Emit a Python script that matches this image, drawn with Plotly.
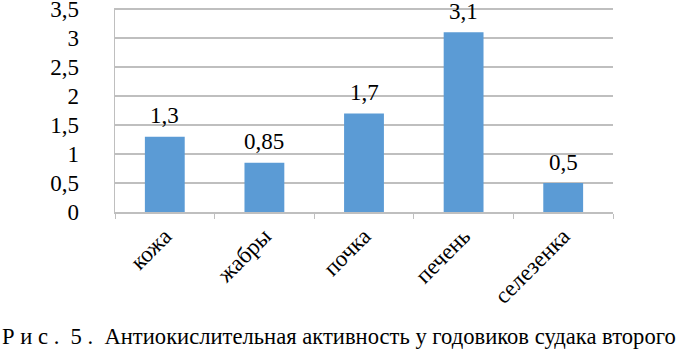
import plotly.graph_objects as go

categories = ["кожа", "жабры", "почка", "печень", "селезенка"]
values = [1.3, 0.85, 1.7, 3.1, 0.5]
value_labels = ["1,3", "0,85", "1,7", "3,1", "0,5"]
y_ticks = [0, 0.5, 1, 1.5, 2, 2.5, 3, 3.5]
y_tick_labels = ["0", "0,5", "1", "1,5", "2", "2,5", "3", "3,5"]
caption = "Р и с .  5 .  Антиокислительная активность у годовиков судака второго"

FONT = "Liberation Serif, Times New Roman, serif"
FS = 23

fig = go.Figure(go.Bar(
    x=categories, y=values,
    marker=dict(color="#5B9BD5", line=dict(width=0)),
    cliponaxis=False, hoverinfo="skip",
))

annotations = [
    dict(x=c, y=v, text=t, xref="x", yref="y", showarrow=False,
         xanchor="center", yanchor="middle", yshift=21,
         font=dict(family=FONT, size=FS, color="black"))
    for c, v, t in zip(categories, values, value_labels)
]
annotations.append(dict(
    text=caption, xref="paper", yref="paper",
    x=-115/498, y=-124/204, xanchor="left", yanchor="middle",
    showarrow=False, font=dict(family=FONT, size=22.6, color="black"),
))

fig.update_layout(
    width=683, height=350,
    margin=dict(l=115, r=70, t=8, b=138, autoexpand=False),
    paper_bgcolor="white", plot_bgcolor="white",
    bargap=0.6,
    showlegend=False,
    font=dict(family=FONT, size=FS, color="black"),
    annotations=annotations,
)
fig.update_xaxes(
    tickangle=-45, tickson="boundaries", ticks="outside", ticklen=5,
    tickcolor="#bfbfbf", showline=True, linecolor="#bfbfbf", linewidth=1.5,
    showgrid=False, automargin=False, ticklabeloverflow="allow",
    tickfont=dict(family=FONT, size=FS, color="black"),
)
fig.update_yaxes(
    range=[0, 3.52], tickvals=y_ticks, ticktext=y_tick_labels,
    showgrid=True, gridcolor="#bfbfbf", gridwidth=1.5,
    showline=True, linecolor="#bfbfbf", linewidth=1.5,
    ticks="", ticklabelstandoff=30, zeroline=False, automargin=False,
    ticklabeloverflow="allow",
    tickfont=dict(family=FONT, size=FS, color="black"),
)

fig.write_html(
    "out.html",
    config={"displayModeBar": False, "staticPlot": True},
    post_script="document.body.style.margin='0';document.body.style.overflow='hidden';",
)
